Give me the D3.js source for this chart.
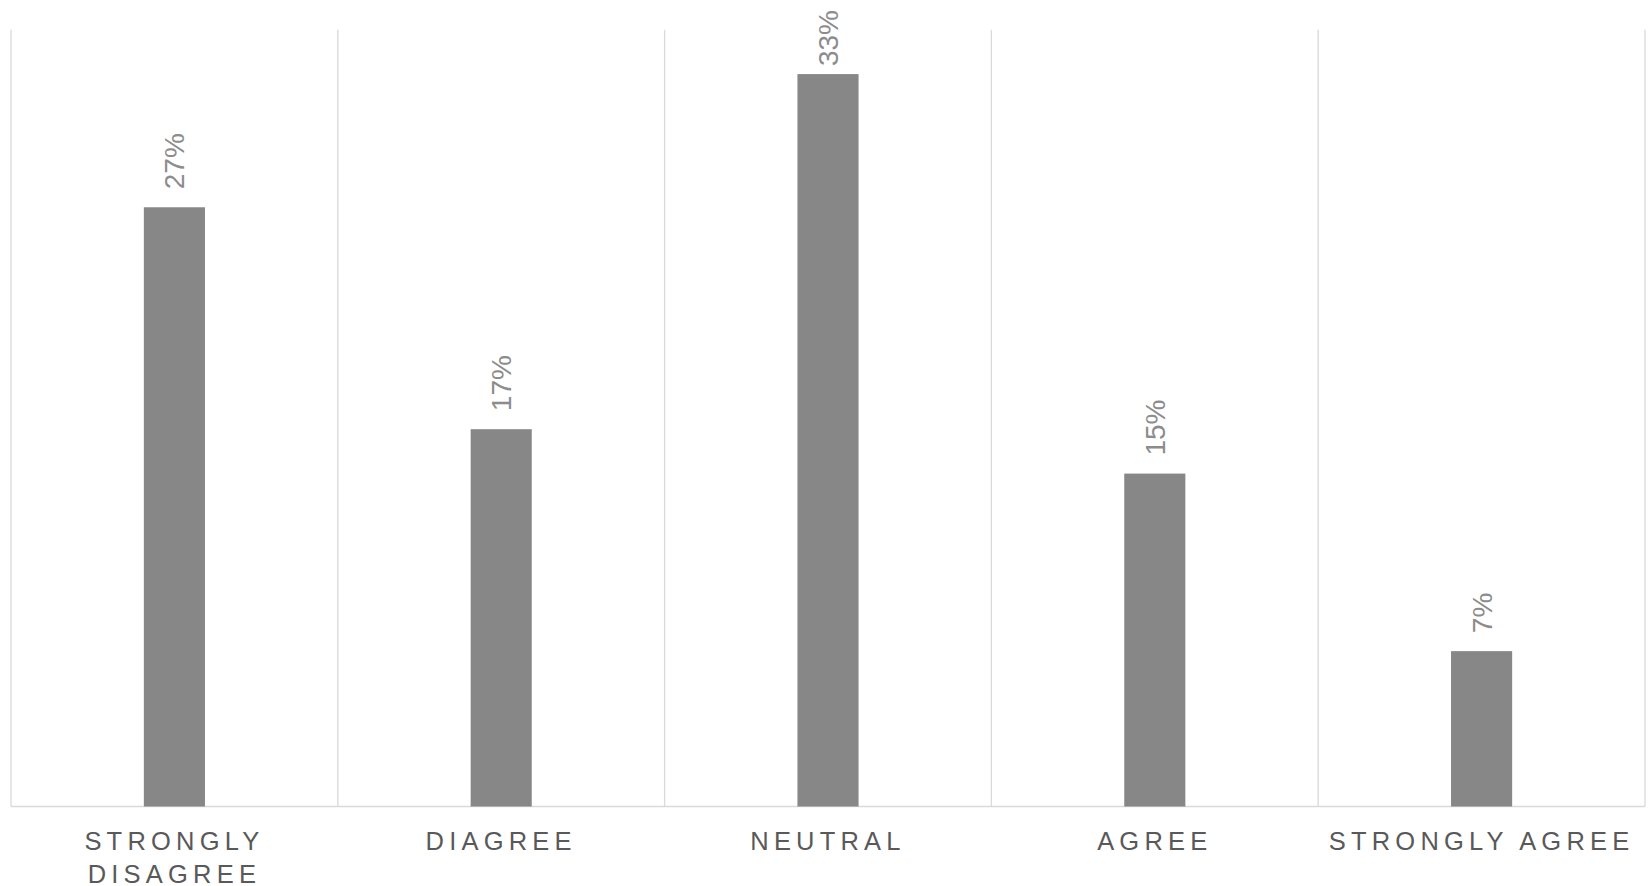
<!DOCTYPE html>
<html>
<head>
<meta charset="utf-8">
<script src="https://cdn.jsdelivr.net/npm/d3@7/dist/d3.min.js"></script>
<style>
  html, body { margin: 0; padding: 0; background: #ffffff; }
  svg { display: block; }
</style>
</head>
<body>
<svg id="chart" width="1651" height="886"></svg>
<script>
// Survey response shares (percent)
const categories = ["STRONGLY DISAGREE", "DIAGREE", "NEUTRAL", "AGREE", "STRONGLY AGREE"];
const categoryLines = [["STRONGLY", "DISAGREE"], ["DIAGREE"], ["NEUTRAL"], ["AGREE"], ["STRONGLY AGREE"]];
const values = [27, 17, 33, 15, 7];
const yDomain = [0, 35];

const svg = d3.select("#chart");
const plotLeft = 11, plotRight = 1645, plotTop = 29.7, plotBottom = 806.5;

const x = d3.scaleBand()
  .domain(categories)
  .range([plotLeft, plotRight])
  .paddingInner(0)
  .paddingOuter(0);

const y = d3.scaleLinear().domain(yDomain).range([plotBottom, plotTop]);

const barW = x.bandwidth() * 0.187;

// Vertical category separators
const bounds = categories.map(c => x(c)).concat([plotRight]);
svg.append("g")
  .selectAll("line")
  .data(bounds)
  .join("line")
  .attr("x1", d => d).attr("x2", d => d)
  .attr("y1", plotTop).attr("y2", plotBottom)
  .attr("stroke", "#d9d9d9")
  .attr("stroke-width", 1.3);

// Baseline
svg.append("line")
  .attr("x1", plotLeft).attr("x2", plotRight)
  .attr("y1", plotBottom).attr("y2", plotBottom)
  .attr("stroke", "#d9d9d9")
  .attr("stroke-width", 1.3);

// Bars
svg.append("g")
  .selectAll("rect")
  .data(values)
  .join("rect")
  .attr("x", (d, i) => x(categories[i]) + x.bandwidth() / 2 - barW / 2)
  .attr("y", d => y(d))
  .attr("width", barW)
  .attr("height", d => y(0) - y(d))
  .attr("fill", "#878787");

// Value labels, rotated; kept inside the top edge of the canvas
svg.append("g")
  .selectAll("text")
  .data(values)
  .join("text")
  .attr("text-anchor", "start")
  .attr("font-family", "Liberation Sans, Arial, sans-serif")
  .attr("font-size", 28)
  .attr("fill", "#8c8c8c")
  .text(d => d + "%")
  .attr("transform", function (d, i) {
    const len = this.getComputedTextLength();
    const cx = x(categories[i]) + x.bandwidth() / 2 + 10;
    const cy = Math.max(y(d) - 18, 10 + len);
    return `translate(${cx},${cy}) rotate(-90)`;
  });

// Category labels
const catG = svg.append("g")
  .attr("font-family", "Liberation Sans, Arial, sans-serif")
  .attr("font-size", 25.5)
  .attr("fill", "#595959")
  .attr("letter-spacing", 5.2);

catG.selectAll("text")
  .data(categories)
  .join("text")
  .attr("text-anchor", "middle")
  .each(function (c, i) {
    const t = d3.select(this);
    const cx = x(c) + x.bandwidth() / 2;
    categoryLines[i].forEach((line, k) => {
      t.append("tspan")
        .attr("x", cx)
        .attr("y", 850 + k * 32.5)
        .text(line);
    });
  });
</script>
</body>
</html>
